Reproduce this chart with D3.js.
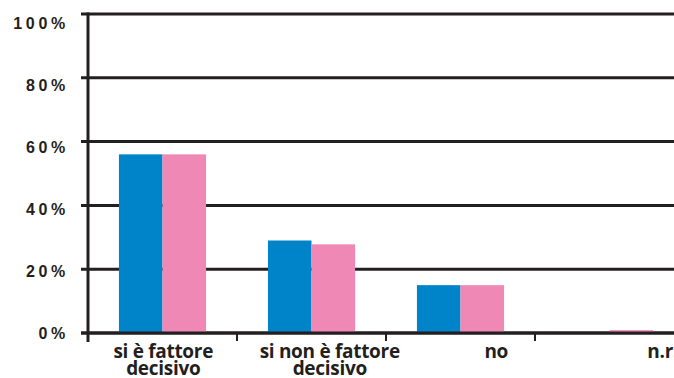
<!DOCTYPE html>
<html>
<head>
<meta charset="utf-8">
<script src="https://cdn.jsdelivr.net/npm/d3@7"></script>
<style>
  html, body { margin: 0; padding: 0; background: #fff; }
  svg { display: block; }
</style>
</head>
<body>
<svg id="chart" width="674" height="378"></svg>
<script>
// Risposte per categoria, due serie affiancate (valori in %)
const categories = ["si è fattore decisivo", "si non è fattore decisivo", "no", "n.r."];
const categoryLines = [["si è fattore", "decisivo"], ["si non è fattore", "decisivo"], ["no"], ["n.r."]];
const seriesNames = ["A", "B"];
const seriesA = [56, 29, 15, 0];
const seriesB = [56, 27.8, 15, 0.9];
const yTicks = [0, 20, 40, 60, 80, 100];
const yTickLabels = ["0%", "20%", "40%", "60%", "80%", "100%"];
const colors = ["#0084c9", "#f088b5"];

const svg = d3.select("#chart");
const ink = "#231f20";

const plot = { left: 88, top: 14, bottom: 333, right: 684 };

const y = d3.scaleLinear().domain([0, 100]).range([plot.bottom, plot.top]);
// the percentage labels sit on their own slightly tighter scale
const yLabel = d3.scaleLinear().domain([0, 100]).range([plot.bottom, plot.top + 9]);

const x0 = d3.scaleBand().domain(categories).range([plot.left, plot.right]).padding(0);
const x1 = d3.scaleBand().domain(seriesNames).range([0, x0.bandwidth()]).paddingInner(0).paddingOuter(0.71);
// category captions are spread on a wider band grid
const xLabel = d3.scaleBand().domain(categories).range([80, 746]);

const rows = categories.map((c, i) => ({ cat: c, values: [seriesA[i], seriesB[i]] }));

// horizontal gridlines
svg.append("g").selectAll("line").data(yTicks).join("line")
  .attr("x1", plot.left - 7).attr("x2", 674)
  .attr("y1", d => y(d)).attr("y2", d => y(d))
  .attr("stroke", ink).attr("stroke-width", 3);

// bars
svg.append("g").selectAll("g").data(rows).join("g")
  .attr("transform", d => `translate(${x0(d.cat)},0)`)
  .selectAll("rect").data(d => d.values.map((v, j) => ({ s: seriesNames[j], v, j })))
  .join("rect")
  .attr("x", d => x1(d.s))
  .attr("width", x1.bandwidth())
  .attr("y", d => y(d.v))
  .attr("height", d => y(0) - y(d.v))
  .attr("fill", d => colors[d.j]);

// baseline redrawn over bar bottoms
svg.append("line")
  .attr("x1", plot.left - 7).attr("x2", 674)
  .attr("y1", y(0)).attr("y2", y(0))
  .attr("stroke", ink).attr("stroke-width", 3);

// vertical axis
svg.append("line")
  .attr("x1", plot.left).attr("x2", plot.left)
  .attr("y1", plot.top - 1.5).attr("y2", y(0) + 9)
  .attr("stroke", ink).attr("stroke-width", 3);

// category boundary ticks
svg.append("g").selectAll("line").data(categories.slice(1)).join("line")
  .attr("x1", d => x0(d)).attr("x2", d => x0(d))
  .attr("y1", y(0)).attr("y2", y(0) + 8)
  .attr("stroke", ink).attr("stroke-width", 2);

// y labels
svg.append("g").selectAll("text").data(yTicks).join("text")
  .attr("x", 69)
  .attr("y", d => yLabel(d))
  .attr("dy", "0.36em")
  .attr("text-anchor", "end")
  .attr("font-family", "Liberation Sans, Arial, sans-serif")
  .attr("font-weight", "bold")
  .attr("font-size", 16)
  .attr("letter-spacing", 3.7)
  .attr("fill", ink)
  .text((d, i) => yTickLabels[i]);

// category captions
const cap = svg.append("g").selectAll("text").data(categories).join("text")
  .attr("x", d => xLabel(d) + xLabel.bandwidth() / 2)
  .attr("y", 358)
  .attr("text-anchor", "middle")
  .attr("font-family", "Open Sans, sans-serif")
  .attr("font-weight", "bold")
  .attr("font-size", 19)
  .attr("letter-spacing", -0.3)
  .attr("fill", ink);
cap.selectAll("tspan").data((d, i) => categoryLines[i]).join("tspan")
  .attr("x", function () { return d3.select(this.parentNode).attr("x"); })
  .attr("dy", (d, i) => i === 0 ? 0 : 17)
  .text(d => d);
</script>
</body>
</html>
